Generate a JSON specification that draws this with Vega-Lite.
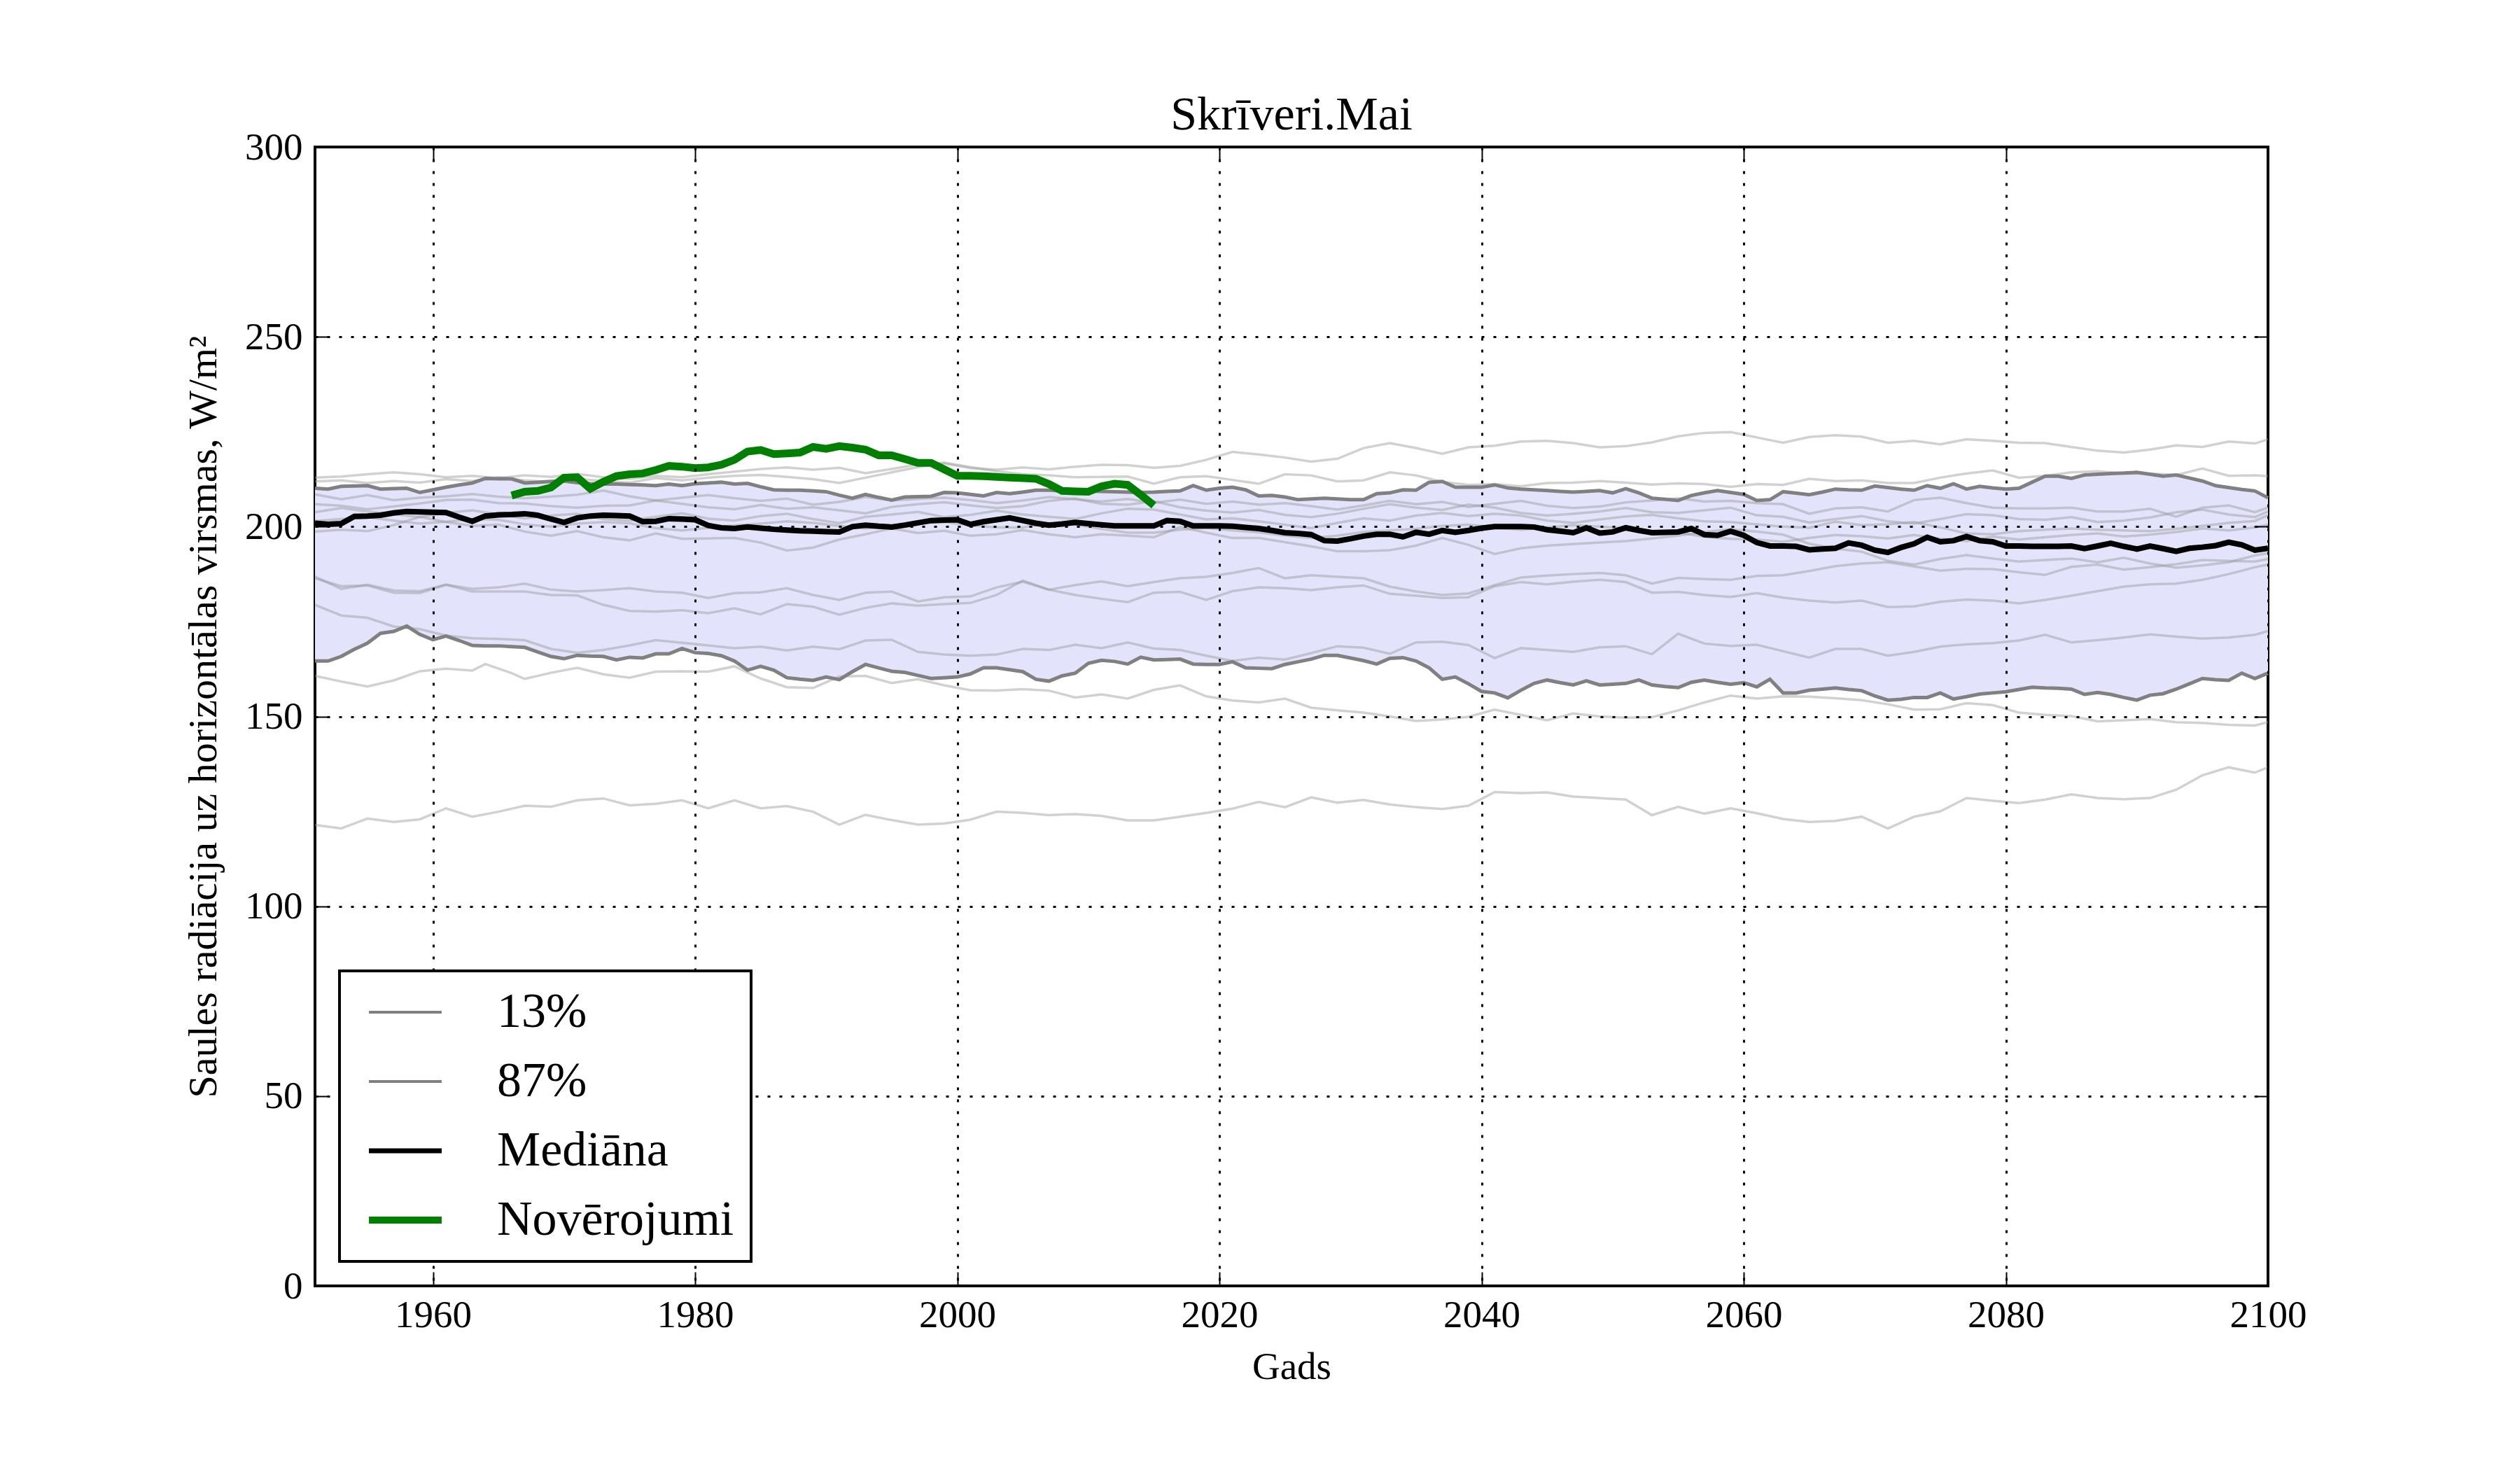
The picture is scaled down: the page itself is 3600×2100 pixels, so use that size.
{
"$schema": "https://vega.github.io/schema/vega-lite/v6.json",
"width": 2790, "height": 1627,
"autosize": {"type": "none"},
"padding": {"left": 450, "top": 210, "right": 360, "bottom": 263},
"background": "white",
"config": {"view": {"stroke": "black", "strokeWidth": 4}, "font": "Liberation Serif"},
"title": {"text": "Skrīveri.Mai", "fontSize": 68, "font": "Liberation Serif", "fontWeight": "normal", "offset": -16, "color": "black"},
"datasets": {
"stats": [
{"year":1951,"13%":164.6,"87%":210.1,"Mediāna":200.9},{"year":1952,"13%":164.6,"87%":209.9,"Mediāna":200.6},{"year":1953,"13%":165.8,"87%":210.6,"Mediāna":200.8},{"year":1954,"13%":167.7,"87%":210.7,"Mediāna":202.7},{"year":1955,"13%":169.3,"87%":210.8,"Mediāna":202.8},{"year":1956,"13%":171.9,"87%":209.9,"Mediāna":203.0},{"year":1957,"13%":172.4,"87%":210.0,"Mediāna":203.6},{"year":1958,"13%":173.8,"87%":210.1,"Mediāna":204.0},{"year":1959,"13%":171.6,"87%":209.0,"Mediāna":203.9},{"year":1960,"13%":170.2,"87%":209.7,"Mediāna":203.8},
{"year":1961,"13%":171.2,"87%":210.4,"Mediāna":203.7},{"year":1962,"13%":170.0,"87%":211.0,"Mediāna":202.5},{"year":1963,"13%":168.7,"87%":211.5,"Mediāna":201.4},{"year":1964,"13%":168.6,"87%":212.7,"Mediāna":202.8},{"year":1965,"13%":168.6,"87%":212.6,"Mediāna":203.1},{"year":1966,"13%":168.4,"87%":212.6,"Mediāna":203.2},{"year":1967,"13%":168.2,"87%":211.5,"Mediāna":203.4},{"year":1968,"13%":167.0,"87%":211.7,"Mediāna":203.0},{"year":1969,"13%":165.8,"87%":211.9,"Mediāna":202.0},{"year":1970,"13%":165.2,"87%":212.0,"Mediāna":201.1},
{"year":1971,"13%":166.1,"87%":211.6,"Mediāna":202.3},{"year":1972,"13%":165.9,"87%":211.3,"Mediāna":202.8},{"year":1973,"13%":165.8,"87%":211.2,"Mediāna":203.0},{"year":1974,"13%":164.9,"87%":211.2,"Mediāna":202.9},{"year":1975,"13%":165.6,"87%":211.1,"Mediāna":202.8},{"year":1976,"13%":165.4,"87%":211.0,"Mediāna":201.3},{"year":1977,"13%":166.5,"87%":210.8,"Mediāna":201.4},{"year":1978,"13%":166.5,"87%":211.2,"Mediāna":202.1},{"year":1979,"13%":167.9,"87%":210.8,"Mediāna":202.0},{"year":1980,"13%":166.8,"87%":211.3,"Mediāna":201.8},
{"year":1981,"13%":166.6,"87%":211.5,"Mediāna":200.3},{"year":1982,"13%":166.0,"87%":211.7,"Mediāna":199.7},{"year":1983,"13%":164.6,"87%":211.2,"Mediāna":199.5},{"year":1984,"13%":162.2,"87%":211.4,"Mediāna":199.9},{"year":1985,"13%":163.2,"87%":210.5,"Mediāna":199.6},{"year":1986,"13%":162.2,"87%":209.7,"Mediāna":199.3},{"year":1987,"13%":160.2,"87%":209.6,"Mediāna":199.1},{"year":1988,"13%":159.8,"87%":209.6,"Mediāna":198.9},{"year":1989,"13%":159.5,"87%":209.4,"Mediāna":198.8},{"year":1990,"13%":160.4,"87%":209.2,"Mediāna":198.7},
{"year":1991,"13%":159.7,"87%":208.3,"Mediāna":198.6},{"year":1992,"13%":161.8,"87%":207.5,"Mediāna":200.0},{"year":1993,"13%":163.7,"87%":208.5,"Mediāna":200.4},{"year":1994,"13%":162.8,"87%":207.7,"Mediāna":200.1},{"year":1995,"13%":161.9,"87%":207.0,"Mediāna":199.9},{"year":1996,"13%":161.6,"87%":207.8,"Mediāna":200.4},{"year":1997,"13%":160.8,"87%":207.9,"Mediāna":201.0},{"year":1998,"13%":160.0,"87%":208.0,"Mediāna":201.6},{"year":1999,"13%":160.2,"87%":209.0,"Mediāna":201.7},{"year":2000,"13%":160.4,"87%":208.9,"Mediāna":201.8},
{"year":2001,"13%":161.2,"87%":208.5,"Mediāna":200.6},{"year":2002,"13%":162.8,"87%":208.1,"Mediāna":201.3},{"year":2003,"13%":162.8,"87%":209.0,"Mediāna":201.8},{"year":2004,"13%":162.3,"87%":208.7,"Mediāna":202.3},{"year":2005,"13%":161.8,"87%":209.1,"Mediāna":201.6},{"year":2006,"13%":159.8,"87%":209.6,"Mediāna":200.9},{"year":2007,"13%":159.3,"87%":209.6,"Mediāna":200.4},{"year":2008,"13%":160.7,"87%":209.4,"Mediāna":200.7},{"year":2009,"13%":161.4,"87%":209.2,"Mediāna":201.1},{"year":2010,"13%":164.0,"87%":209.4,"Mediāna":200.8},
{"year":2011,"13%":164.8,"87%":209.3,"Mediāna":200.5},{"year":2012,"13%":164.5,"87%":209.2,"Mediāna":200.2},{"year":2013,"13%":163.8,"87%":209.1,"Mediāna":200.2},{"year":2014,"13%":165.6,"87%":209.0,"Mediāna":200.2},{"year":2015,"13%":164.9,"87%":209.1,"Mediāna":200.2},{"year":2016,"13%":165.0,"87%":209.3,"Mediāna":201.6},{"year":2017,"13%":165.1,"87%":209.4,"Mediāna":201.4},{"year":2018,"13%":163.8,"87%":210.8,"Mediāna":200.2},{"year":2019,"13%":163.7,"87%":209.6,"Mediāna":200.2},{"year":2020,"13%":163.7,"87%":210.1,"Mediāna":200.2},
{"year":2021,"13%":164.4,"87%":210.4,"Mediāna":200.1},{"year":2022,"13%":162.8,"87%":209.7,"Mediāna":199.8},{"year":2023,"13%":162.7,"87%":208.1,"Mediāna":199.5},{"year":2024,"13%":162.6,"87%":208.2,"Mediāna":199.0},{"year":2025,"13%":163.7,"87%":207.8,"Mediāna":198.4},{"year":2026,"13%":164.4,"87%":207.1,"Mediāna":198.2},{"year":2027,"13%":165.1,"87%":207.3,"Mediāna":197.9},{"year":2028,"13%":166.1,"87%":207.5,"Mediāna":196.3},{"year":2029,"13%":166.1,"87%":207.3,"Mediāna":196.2},{"year":2030,"13%":165.4,"87%":207.1,"Mediāna":196.8},
{"year":2031,"13%":164.7,"87%":207.1,"Mediāna":197.5},{"year":2032,"13%":163.8,"87%":208.7,"Mediāna":198.0},{"year":2033,"13%":165.3,"87%":208.9,"Mediāna":198.0},{"year":2034,"13%":165.5,"87%":209.7,"Mediāna":197.3},{"year":2035,"13%":164.6,"87%":209.6,"Mediāna":198.5},{"year":2036,"13%":162.8,"87%":211.7,"Mediāna":198.0},{"year":2037,"13%":159.8,"87%":211.9,"Mediāna":199.0},{"year":2038,"13%":160.4,"87%":210.4,"Mediāna":198.5},{"year":2039,"13%":158.6,"87%":210.4,"Mediāna":199.0},{"year":2040,"13%":156.6,"87%":210.4,"Mediāna":199.6},
{"year":2041,"13%":156.2,"87%":211.0,"Mediāna":200.0},{"year":2042,"13%":154.9,"87%":210.2,"Mediāna":200.0},{"year":2043,"13%":156.9,"87%":209.9,"Mediāna":200.0},{"year":2044,"13%":158.7,"87%":209.7,"Mediāna":199.9},{"year":2045,"13%":159.6,"87%":209.5,"Mediāna":199.2},{"year":2046,"13%":158.9,"87%":209.3,"Mediāna":198.8},{"year":2047,"13%":158.3,"87%":209.1,"Mediāna":198.4},{"year":2048,"13%":159.4,"87%":209.3,"Mediāna":199.7},{"year":2049,"13%":158.3,"87%":209.5,"Mediāna":198.3},{"year":2050,"13%":158.5,"87%":208.9,"Mediāna":198.6},
{"year":2051,"13%":158.7,"87%":210.0,"Mediāna":199.7},{"year":2052,"13%":159.6,"87%":208.9,"Mediāna":199.0},{"year":2053,"13%":158.3,"87%":207.5,"Mediāna":198.4},{"year":2054,"13%":157.9,"87%":207.2,"Mediāna":198.5},{"year":2055,"13%":157.6,"87%":206.9,"Mediāna":198.6},{"year":2056,"13%":159.0,"87%":208.2,"Mediāna":199.5},{"year":2057,"13%":159.6,"87%":208.9,"Mediāna":197.9},{"year":2058,"13%":159.0,"87%":209.5,"Mediāna":197.7},{"year":2059,"13%":158.5,"87%":209.0,"Mediāna":198.8},{"year":2060,"13%":158.9,"87%":208.5,"Mediāna":197.7},
{"year":2061,"13%":157.8,"87%":206.9,"Mediāna":195.8},{"year":2062,"13%":159.8,"87%":207.1,"Mediāna":194.9},{"year":2063,"13%":156.2,"87%":209.2,"Mediāna":194.9},{"year":2064,"13%":156.2,"87%":208.8,"Mediāna":194.8},{"year":2065,"13%":156.9,"87%":208.4,"Mediāna":193.9},{"year":2066,"13%":157.2,"87%":209.1,"Mediāna":194.1},{"year":2067,"13%":157.5,"87%":209.9,"Mediāna":194.3},{"year":2068,"13%":157.1,"87%":209.7,"Mediāna":195.7},{"year":2069,"13%":156.8,"87%":209.6,"Mediāna":195.1},{"year":2070,"13%":155.4,"87%":210.7,"Mediāna":193.8},
{"year":2071,"13%":154.3,"87%":210.3,"Mediāna":193.2},{"year":2072,"13%":154.5,"87%":209.9,"Mediāna":194.5},{"year":2073,"13%":155.0,"87%":209.6,"Mediāna":195.5},{"year":2074,"13%":155.0,"87%":210.8,"Mediāna":197.2},{"year":2075,"13%":156.2,"87%":210.1,"Mediāna":196.0},{"year":2076,"13%":154.6,"87%":211.3,"Mediāna":196.3},{"year":2077,"13%":155.2,"87%":209.9,"Mediāna":197.4},{"year":2078,"13%":155.9,"87%":210.6,"Mediāna":196.3},{"year":2079,"13%":156.2,"87%":210.2,"Mediāna":196.0},{"year":2080,"13%":156.5,"87%":209.9,"Mediāna":194.9},
{"year":2081,"13%":157.1,"87%":210.1,"Mediāna":194.9},{"year":2082,"13%":157.7,"87%":211.7,"Mediāna":194.8},{"year":2083,"13%":157.5,"87%":213.3,"Mediāna":194.8},{"year":2084,"13%":157.4,"87%":213.3,"Mediāna":194.8},{"year":2085,"13%":157.2,"87%":212.7,"Mediāna":194.9},{"year":2086,"13%":155.8,"87%":213.6,"Mediāna":194.2},{"year":2087,"13%":156.3,"87%":213.8,"Mediāna":194.9},{"year":2088,"13%":155.8,"87%":214.0,"Mediāna":195.6},{"year":2089,"13%":155.0,"87%":214.1,"Mediāna":194.8},{"year":2090,"13%":154.3,"87%":214.3,"Mediāna":194.1},
{"year":2091,"13%":155.6,"87%":213.8,"Mediāna":194.9},{"year":2092,"13%":156.0,"87%":213.3,"Mediāna":194.2},{"year":2093,"13%":157.2,"87%":213.6,"Mediāna":193.5},{"year":2094,"13%":158.6,"87%":212.8,"Mediāna":194.3},{"year":2095,"13%":160.0,"87%":212.0,"Mediāna":194.6},{"year":2096,"13%":159.7,"87%":210.8,"Mediāna":195.0},{"year":2097,"13%":159.5,"87%":210.3,"Mediāna":195.9},{"year":2098,"13%":161.4,"87%":209.8,"Mediāna":195.2},{"year":2099,"13%":160.0,"87%":209.4,"Mediāna":193.8},{"year":2100,"13%":161.4,"87%":207.6,"Mediāna":194.3}
],
"obs": [
{"year":1966,"s":"Novērojumi","v":208.2},{"year":1967,"s":"Novērojumi","v":209.2},{"year":1968,"s":"Novērojumi","v":209.4},{"year":1969,"s":"Novērojumi","v":210.3},{"year":1970,"s":"Novērojumi","v":212.9},{"year":1971,"s":"Novērojumi","v":213.0},{"year":1972,"s":"Novērojumi","v":210.0},{"year":1973,"s":"Novērojumi","v":211.8},{"year":1974,"s":"Novērojumi","v":213.3},{"year":1975,"s":"Novērojumi","v":213.8},
{"year":1976,"s":"Novērojumi","v":214.0},{"year":1977,"s":"Novērojumi","v":214.9},{"year":1978,"s":"Novērojumi","v":216.0},{"year":1979,"s":"Novērojumi","v":215.8},{"year":1980,"s":"Novērojumi","v":215.4},{"year":1981,"s":"Novērojumi","v":215.6},{"year":1982,"s":"Novērojumi","v":216.3},{"year":1983,"s":"Novērojumi","v":217.6},{"year":1984,"s":"Novērojumi","v":219.8},{"year":1985,"s":"Novērojumi","v":220.2},
{"year":1986,"s":"Novērojumi","v":219.1},{"year":1987,"s":"Novērojumi","v":219.3},{"year":1988,"s":"Novērojumi","v":219.5},{"year":1989,"s":"Novērojumi","v":221.0},{"year":1990,"s":"Novērojumi","v":220.5},{"year":1991,"s":"Novērojumi","v":221.2},{"year":1992,"s":"Novērojumi","v":220.8},{"year":1993,"s":"Novērojumi","v":220.3},{"year":1994,"s":"Novērojumi","v":218.8},{"year":1995,"s":"Novērojumi","v":218.8},
{"year":1996,"s":"Novērojumi","v":217.8},{"year":1997,"s":"Novērojumi","v":216.8},{"year":1998,"s":"Novērojumi","v":216.8},{"year":1999,"s":"Novērojumi","v":215.1},{"year":2000,"s":"Novērojumi","v":213.4},{"year":2001,"s":"Novērojumi","v":213.4},{"year":2002,"s":"Novērojumi","v":213.3},{"year":2003,"s":"Novērojumi","v":213.1},{"year":2004,"s":"Novērojumi","v":212.9},{"year":2005,"s":"Novērojumi","v":212.8},
{"year":2006,"s":"Novērojumi","v":212.6},{"year":2007,"s":"Novērojumi","v":211.2},{"year":2008,"s":"Novērojumi","v":209.4},{"year":2009,"s":"Novērojumi","v":209.3},{"year":2010,"s":"Novērojumi","v":209.2},{"year":2011,"s":"Novērojumi","v":210.6},{"year":2012,"s":"Novērojumi","v":211.3},{"year":2013,"s":"Novērojumi","v":211.0},{"year":2014,"s":"Novērojumi","v":208.4},{"year":2015,"s":"Novērojumi","v":205.6}
],
"ens": [
{"id":"T1","x":1951,"y":212.9},{"id":"T1","x":1953,"y":213.2},{"id":"T1","x":1955,"y":213.8},{"id":"T1","x":1957,"y":214.3},{"id":"T1","x":1959,"y":213.8},{"id":"T1","x":1961,"y":213.0},{"id":"T1","x":1963,"y":213.4},{"id":"T1","x":1965,"y":212.8},{"id":"T1","x":1967,"y":213.5},{"id":"T1","x":1969,"y":213.1},{"id":"T1","x":1971,"y":213.9},{"id":"T1","x":1973,"y":213.0},{"id":"T1","x":1975,"y":212.6},{"id":"T1","x":1977,"y":213.4},{"id":"T1","x":1979,"y":213.0},{"id":"T1","x":1981,"y":213.8},{"id":"T1","x":1983,"y":214.5},{"id":"T1","x":1985,"y":215.2},{"id":"T1","x":1987,"y":215.6},{"id":"T1","x":1989,"y":215.0},{"id":"T1","x":1991,"y":215.5},{"id":"T1","x":1993,"y":214.1},{"id":"T1","x":1995,"y":215.2},{"id":"T1","x":1997,"y":216.4},{"id":"T1","x":1999,"y":216.6},{"id":"T1","x":2001,"y":215.4},{"id":"T1","x":2003,"y":215.0},{"id":"T1","x":2005,"y":215.6},{"id":"T1","x":2007,"y":215.1},{"id":"T1","x":2009,"y":215.8},{"id":"T1","x":2011,"y":216.3},{"id":"T1","x":2013,"y":216.2},{"id":"T1","x":2015,"y":215.5},{"id":"T1","x":2017,"y":216.0},{"id":"T1","x":2019,"y":217.6},{"id":"T1","x":2021,"y":219.7},{"id":"T1","x":2023,"y":219.0},{"id":"T1","x":2025,"y":218.2},{"id":"T1","x":2027,"y":217.1},{"id":"T1","x":2029,"y":217.9},{"id":"T1","x":2031,"y":220.7},{"id":"T1","x":2033,"y":222.0},{"id":"T1","x":2035,"y":220.7},{"id":"T1","x":2037,"y":219.2},{"id":"T1","x":2039,"y":220.9},{"id":"T1","x":2041,"y":221.3},{"id":"T1","x":2043,"y":222.4},{"id":"T1","x":2045,"y":222.6},{"id":"T1","x":2047,"y":222.0},{"id":"T1","x":2049,"y":220.9},{"id":"T1","x":2051,"y":221.2},{"id":"T1","x":2053,"y":222.2},{"id":"T1","x":2055,"y":223.8},{"id":"T1","x":2057,"y":224.7},{"id":"T1","x":2059,"y":224.9},{"id":"T1","x":2061,"y":223.5},{"id":"T1","x":2063,"y":222.1},{"id":"T1","x":2065,"y":223.6},{"id":"T1","x":2067,"y":224.1},{"id":"T1","x":2069,"y":223.7},{"id":"T1","x":2071,"y":222.1},{"id":"T1","x":2073,"y":222.6},{"id":"T1","x":2075,"y":221.7},{"id":"T1","x":2077,"y":223.0},{"id":"T1","x":2079,"y":222.6},{"id":"T1","x":2081,"y":222.1},{"id":"T1","x":2083,"y":222.0},{"id":"T1","x":2085,"y":221.0},{"id":"T1","x":2087,"y":220.0},{"id":"T1","x":2089,"y":219.5},{"id":"T1","x":2091,"y":220.3},{"id":"T1","x":2093,"y":221.4},{"id":"T1","x":2095,"y":221.0},{"id":"T1","x":2097,"y":222.4},{"id":"T1","x":2099,"y":221.9},{"id":"T1","x":2100,"y":223.0},
{"id":"T2","x":1951,"y":211.9},{"id":"T2","x":1953,"y":212.2},{"id":"T2","x":1955,"y":211.5},{"id":"T2","x":1957,"y":212.0},{"id":"T2","x":1959,"y":211.6},{"id":"T2","x":1961,"y":212.5},{"id":"T2","x":1963,"y":212.0},{"id":"T2","x":1965,"y":213.0},{"id":"T2","x":1967,"y":212.2},{"id":"T2","x":1969,"y":211.8},{"id":"T2","x":1971,"y":212.6},{"id":"T2","x":1973,"y":212.0},{"id":"T2","x":1975,"y":211.6},{"id":"T2","x":1977,"y":212.8},{"id":"T2","x":1979,"y":212.2},{"id":"T2","x":1981,"y":212.9},{"id":"T2","x":1983,"y":213.4},{"id":"T2","x":1985,"y":213.6},{"id":"T2","x":1987,"y":213.1},{"id":"T2","x":1989,"y":212.5},{"id":"T2","x":1991,"y":211.5},{"id":"T2","x":1993,"y":212.9},{"id":"T2","x":1995,"y":214.3},{"id":"T2","x":1997,"y":215.7},{"id":"T2","x":1999,"y":216.9},{"id":"T2","x":2001,"y":215.7},{"id":"T2","x":2003,"y":214.6},{"id":"T2","x":2005,"y":213.8},{"id":"T2","x":2007,"y":213.5},{"id":"T2","x":2009,"y":213.0},{"id":"T2","x":2011,"y":213.1},{"id":"T2","x":2013,"y":213.2},{"id":"T2","x":2015,"y":211.3},{"id":"T2","x":2017,"y":213.0},{"id":"T2","x":2019,"y":213.3},{"id":"T2","x":2021,"y":212.3},{"id":"T2","x":2023,"y":211.3},{"id":"T2","x":2025,"y":213.8},{"id":"T2","x":2027,"y":213.5},{"id":"T2","x":2029,"y":211.9},{"id":"T2","x":2031,"y":212.2},{"id":"T2","x":2033,"y":214.3},{"id":"T2","x":2035,"y":213.5},{"id":"T2","x":2037,"y":211.8},{"id":"T2","x":2039,"y":211.0},{"id":"T2","x":2041,"y":211.2},{"id":"T2","x":2043,"y":210.6},{"id":"T2","x":2045,"y":211.5},{"id":"T2","x":2047,"y":211.6},{"id":"T2","x":2049,"y":212.0},{"id":"T2","x":2051,"y":211.6},{"id":"T2","x":2053,"y":211.1},{"id":"T2","x":2055,"y":211.4},{"id":"T2","x":2057,"y":211.2},{"id":"T2","x":2059,"y":210.5},{"id":"T2","x":2061,"y":211.2},{"id":"T2","x":2063,"y":211.0},{"id":"T2","x":2065,"y":212.6},{"id":"T2","x":2067,"y":212.0},{"id":"T2","x":2069,"y":212.2},{"id":"T2","x":2071,"y":211.5},{"id":"T2","x":2073,"y":211.5},{"id":"T2","x":2075,"y":212.9},{"id":"T2","x":2077,"y":214.0},{"id":"T2","x":2079,"y":214.8},{"id":"T2","x":2081,"y":212.9},{"id":"T2","x":2083,"y":213.4},{"id":"T2","x":2085,"y":214.3},{"id":"T2","x":2087,"y":214.6},{"id":"T2","x":2089,"y":214.0},{"id":"T2","x":2091,"y":214.0},{"id":"T2","x":2093,"y":213.6},{"id":"T2","x":2095,"y":215.3},{"id":"T2","x":2097,"y":213.4},{"id":"T2","x":2099,"y":213.5},{"id":"T2","x":2100,"y":213.3},
{"id":"U1","x":1951,"y":208.5},{"id":"U1","x":1953,"y":207.2},{"id":"U1","x":1955,"y":208.3},{"id":"U1","x":1957,"y":207.0},{"id":"U1","x":1959,"y":207.6},{"id":"U1","x":1961,"y":208.0},{"id":"U1","x":1963,"y":208.6},{"id":"U1","x":1965,"y":207.9},{"id":"U1","x":1967,"y":207.5},{"id":"U1","x":1969,"y":207.9},{"id":"U1","x":1971,"y":208.4},{"id":"U1","x":1973,"y":209.5},{"id":"U1","x":1975,"y":208.0},{"id":"U1","x":1977,"y":206.9},{"id":"U1","x":1979,"y":207.6},{"id":"U1","x":1981,"y":208.3},{"id":"U1","x":1983,"y":207.5},{"id":"U1","x":1985,"y":206.8},{"id":"U1","x":1987,"y":207.4},{"id":"U1","x":1989,"y":205.8},{"id":"U1","x":1991,"y":206.5},{"id":"U1","x":1993,"y":207.8},{"id":"U1","x":1995,"y":206.9},{"id":"U1","x":1997,"y":207.3},{"id":"U1","x":1999,"y":207.6},{"id":"U1","x":2001,"y":207.0},{"id":"U1","x":2003,"y":206.2},{"id":"U1","x":2005,"y":206.9},{"id":"U1","x":2007,"y":207.8},{"id":"U1","x":2009,"y":207.2},{"id":"U1","x":2011,"y":206.6},{"id":"U1","x":2013,"y":207.3},{"id":"U1","x":2015,"y":206.3},{"id":"U1","x":2017,"y":207.1},{"id":"U1","x":2019,"y":206.0},{"id":"U1","x":2021,"y":206.6},{"id":"U1","x":2023,"y":205.8},{"id":"U1","x":2025,"y":206.2},{"id":"U1","x":2027,"y":205.4},{"id":"U1","x":2029,"y":204.5},{"id":"U1","x":2031,"y":205.6},{"id":"U1","x":2033,"y":206.8},{"id":"U1","x":2035,"y":205.9},{"id":"U1","x":2037,"y":206.5},{"id":"U1","x":2039,"y":205.2},{"id":"U1","x":2041,"y":206.0},{"id":"U1","x":2043,"y":206.8},{"id":"U1","x":2045,"y":205.5},{"id":"U1","x":2047,"y":204.9},{"id":"U1","x":2049,"y":205.3},{"id":"U1","x":2051,"y":206.4},{"id":"U1","x":2053,"y":206.9},{"id":"U1","x":2055,"y":207.5},{"id":"U1","x":2057,"y":206.6},{"id":"U1","x":2059,"y":206.8},{"id":"U1","x":2061,"y":206.2},{"id":"U1","x":2063,"y":205.9},{"id":"U1","x":2065,"y":203.4},{"id":"U1","x":2067,"y":204.8},{"id":"U1","x":2069,"y":205.1},{"id":"U1","x":2071,"y":204.0},{"id":"U1","x":2073,"y":207.0},{"id":"U1","x":2075,"y":207.6},{"id":"U1","x":2077,"y":206.2},{"id":"U1","x":2079,"y":205.0},{"id":"U1","x":2081,"y":204.8},{"id":"U1","x":2083,"y":204.8},{"id":"U1","x":2085,"y":205.0},{"id":"U1","x":2087,"y":204.0},{"id":"U1","x":2089,"y":204.0},{"id":"U1","x":2091,"y":204.7},{"id":"U1","x":2093,"y":202.6},{"id":"U1","x":2095,"y":205.0},{"id":"U1","x":2097,"y":205.6},{"id":"U1","x":2099,"y":203.8},{"id":"U1","x":2100,"y":205.0},
{"id":"U2","x":1951,"y":205.9},{"id":"U2","x":1953,"y":205.5},{"id":"U2","x":1955,"y":204.6},{"id":"U2","x":1957,"y":205.3},{"id":"U2","x":1959,"y":206.1},{"id":"U2","x":1961,"y":207.0},{"id":"U2","x":1963,"y":207.1},{"id":"U2","x":1965,"y":206.2},{"id":"U2","x":1967,"y":206.1},{"id":"U2","x":1969,"y":205.4},{"id":"U2","x":1971,"y":205.0},{"id":"U2","x":1973,"y":205.5},{"id":"U2","x":1975,"y":205.6},{"id":"U2","x":1977,"y":206.9},{"id":"U2","x":1979,"y":206.0},{"id":"U2","x":1981,"y":205.1},{"id":"U2","x":1983,"y":204.6},{"id":"U2","x":1985,"y":205.7},{"id":"U2","x":1987,"y":204.7},{"id":"U2","x":1989,"y":205.1},{"id":"U2","x":1991,"y":204.3},{"id":"U2","x":1993,"y":203.5},{"id":"U2","x":1995,"y":205.2},{"id":"U2","x":1997,"y":205.9},{"id":"U2","x":1999,"y":206.4},{"id":"U2","x":2001,"y":205.6},{"id":"U2","x":2003,"y":204.9},{"id":"U2","x":2005,"y":205.4},{"id":"U2","x":2007,"y":206.8},{"id":"U2","x":2009,"y":207.4},{"id":"U2","x":2011,"y":206.0},{"id":"U2","x":2013,"y":205.8},{"id":"U2","x":2015,"y":206.7},{"id":"U2","x":2017,"y":205.1},{"id":"U2","x":2019,"y":204.2},{"id":"U2","x":2021,"y":203.7},{"id":"U2","x":2023,"y":204.4},{"id":"U2","x":2025,"y":203.1},{"id":"U2","x":2027,"y":202.5},{"id":"U2","x":2029,"y":203.4},{"id":"U2","x":2031,"y":204.7},{"id":"U2","x":2033,"y":205.9},{"id":"U2","x":2035,"y":205.0},{"id":"U2","x":2037,"y":204.4},{"id":"U2","x":2039,"y":205.8},{"id":"U2","x":2041,"y":205.0},{"id":"U2","x":2043,"y":203.6},{"id":"U2","x":2045,"y":202.9},{"id":"U2","x":2047,"y":203.4},{"id":"U2","x":2049,"y":204.0},{"id":"U2","x":2051,"y":204.9},{"id":"U2","x":2053,"y":203.8},{"id":"U2","x":2055,"y":203.6},{"id":"U2","x":2057,"y":204.3},{"id":"U2","x":2059,"y":205.0},{"id":"U2","x":2061,"y":203.0},{"id":"U2","x":2063,"y":202.6},{"id":"U2","x":2065,"y":201.1},{"id":"U2","x":2067,"y":202.0},{"id":"U2","x":2069,"y":202.8},{"id":"U2","x":2071,"y":201.4},{"id":"U2","x":2073,"y":200.8},{"id":"U2","x":2075,"y":202.0},{"id":"U2","x":2077,"y":203.3},{"id":"U2","x":2079,"y":203.0},{"id":"U2","x":2081,"y":202.0},{"id":"U2","x":2083,"y":201.8},{"id":"U2","x":2085,"y":202.5},{"id":"U2","x":2087,"y":201.2},{"id":"U2","x":2089,"y":201.6},{"id":"U2","x":2091,"y":202.4},{"id":"U2","x":2093,"y":203.8},{"id":"U2","x":2095,"y":204.5},{"id":"U2","x":2097,"y":203.2},{"id":"U2","x":2099,"y":202.5},{"id":"U2","x":2100,"y":204.0},
{"id":"U3","x":1951,"y":203.8},{"id":"U3","x":1953,"y":204.9},{"id":"U3","x":1955,"y":204.0},{"id":"U3","x":1957,"y":203.3},{"id":"U3","x":1959,"y":202.5},{"id":"U3","x":1961,"y":203.6},{"id":"U3","x":1963,"y":204.3},{"id":"U3","x":1965,"y":203.2},{"id":"U3","x":1967,"y":202.2},{"id":"U3","x":1969,"y":202.9},{"id":"U3","x":1971,"y":203.4},{"id":"U3","x":1973,"y":202.0},{"id":"U3","x":1975,"y":201.6},{"id":"U3","x":1977,"y":202.6},{"id":"U3","x":1979,"y":203.5},{"id":"U3","x":1981,"y":202.1},{"id":"U3","x":1983,"y":201.6},{"id":"U3","x":1985,"y":202.8},{"id":"U3","x":1987,"y":203.4},{"id":"U3","x":1989,"y":202.0},{"id":"U3","x":1991,"y":200.9},{"id":"U3","x":1993,"y":202.6},{"id":"U3","x":1995,"y":203.2},{"id":"U3","x":1997,"y":203.9},{"id":"U3","x":1999,"y":202.5},{"id":"U3","x":2001,"y":203.1},{"id":"U3","x":2003,"y":204.2},{"id":"U3","x":2005,"y":203.2},{"id":"U3","x":2007,"y":202.6},{"id":"U3","x":2009,"y":202.0},{"id":"U3","x":2011,"y":203.5},{"id":"U3","x":2013,"y":204.7},{"id":"U3","x":2015,"y":204.5},{"id":"U3","x":2017,"y":203.2},{"id":"U3","x":2019,"y":201.9},{"id":"U3","x":2021,"y":202.2},{"id":"U3","x":2023,"y":201.4},{"id":"U3","x":2025,"y":200.5},{"id":"U3","x":2027,"y":199.6},{"id":"U3","x":2029,"y":201.0},{"id":"U3","x":2031,"y":202.2},{"id":"U3","x":2033,"y":201.6},{"id":"U3","x":2035,"y":202.9},{"id":"U3","x":2037,"y":203.6},{"id":"U3","x":2039,"y":202.8},{"id":"U3","x":2041,"y":203.4},{"id":"U3","x":2043,"y":202.9},{"id":"U3","x":2045,"y":201.6},{"id":"U3","x":2047,"y":201.0},{"id":"U3","x":2049,"y":201.9},{"id":"U3","x":2051,"y":202.7},{"id":"U3","x":2053,"y":203.1},{"id":"U3","x":2055,"y":202.2},{"id":"U3","x":2057,"y":201.4},{"id":"U3","x":2059,"y":201.2},{"id":"U3","x":2061,"y":200.6},{"id":"U3","x":2063,"y":200.0},{"id":"U3","x":2065,"y":199.7},{"id":"U3","x":2067,"y":201.3},{"id":"U3","x":2069,"y":200.4},{"id":"U3","x":2071,"y":200.6},{"id":"U3","x":2073,"y":201.2},{"id":"U3","x":2075,"y":199.8},{"id":"U3","x":2077,"y":198.2},{"id":"U3","x":2079,"y":198.0},{"id":"U3","x":2081,"y":198.8},{"id":"U3","x":2083,"y":199.2},{"id":"U3","x":2085,"y":199.5},{"id":"U3","x":2087,"y":199.2},{"id":"U3","x":2089,"y":199.0},{"id":"U3","x":2091,"y":198.8},{"id":"U3","x":2093,"y":199.4},{"id":"U3","x":2095,"y":200.2},{"id":"U3","x":2097,"y":201.0},{"id":"U3","x":2099,"y":201.5},{"id":"U3","x":2100,"y":203.0},
{"id":"U4","x":1951,"y":198.7},{"id":"U4","x":1953,"y":199.2},{"id":"U4","x":1955,"y":198.8},{"id":"U4","x":1957,"y":200.4},{"id":"U4","x":1959,"y":202.6},{"id":"U4","x":1961,"y":201.2},{"id":"U4","x":1963,"y":200.2},{"id":"U4","x":1965,"y":200.5},{"id":"U4","x":1967,"y":198.7},{"id":"U4","x":1969,"y":197.6},{"id":"U4","x":1971,"y":198.8},{"id":"U4","x":1973,"y":197.2},{"id":"U4","x":1975,"y":196.4},{"id":"U4","x":1977,"y":198.2},{"id":"U4","x":1979,"y":196.8},{"id":"U4","x":1981,"y":196.9},{"id":"U4","x":1983,"y":197.0},{"id":"U4","x":1985,"y":195.8},{"id":"U4","x":1987,"y":193.7},{"id":"U4","x":1989,"y":194.5},{"id":"U4","x":1991,"y":196.6},{"id":"U4","x":1993,"y":198.0},{"id":"U4","x":1995,"y":199.5},{"id":"U4","x":1997,"y":198.3},{"id":"U4","x":1999,"y":198.9},{"id":"U4","x":2001,"y":197.6},{"id":"U4","x":2003,"y":198.0},{"id":"U4","x":2005,"y":199.1},{"id":"U4","x":2007,"y":198.0},{"id":"U4","x":2009,"y":197.2},{"id":"U4","x":2011,"y":198.0},{"id":"U4","x":2013,"y":197.6},{"id":"U4","x":2015,"y":197.2},{"id":"U4","x":2017,"y":199.9},{"id":"U4","x":2019,"y":198.4},{"id":"U4","x":2021,"y":197.0},{"id":"U4","x":2023,"y":197.0},{"id":"U4","x":2025,"y":195.9},{"id":"U4","x":2027,"y":194.8},{"id":"U4","x":2029,"y":193.5},{"id":"U4","x":2031,"y":193.5},{"id":"U4","x":2033,"y":193.8},{"id":"U4","x":2035,"y":195.0},{"id":"U4","x":2037,"y":197.0},{"id":"U4","x":2039,"y":195.2},{"id":"U4","x":2041,"y":192.8},{"id":"U4","x":2043,"y":194.3},{"id":"U4","x":2045,"y":195.0},{"id":"U4","x":2047,"y":195.4},{"id":"U4","x":2049,"y":195.8},{"id":"U4","x":2051,"y":196.2},{"id":"U4","x":2053,"y":196.9},{"id":"U4","x":2055,"y":197.6},{"id":"U4","x":2057,"y":198.6},{"id":"U4","x":2059,"y":199.3},{"id":"U4","x":2061,"y":198.7},{"id":"U4","x":2063,"y":197.9},{"id":"U4","x":2065,"y":195.5},{"id":"U4","x":2067,"y":194.2},{"id":"U4","x":2069,"y":193.4},{"id":"U4","x":2071,"y":191.0},{"id":"U4","x":2073,"y":190.0},{"id":"U4","x":2075,"y":191.5},{"id":"U4","x":2077,"y":192.5},{"id":"U4","x":2079,"y":191.6},{"id":"U4","x":2081,"y":190.8},{"id":"U4","x":2083,"y":191.2},{"id":"U4","x":2085,"y":191.6},{"id":"U4","x":2087,"y":190.6},{"id":"U4","x":2089,"y":191.8},{"id":"U4","x":2091,"y":190.3},{"id":"U4","x":2093,"y":189.2},{"id":"U4","x":2095,"y":189.8},{"id":"U4","x":2097,"y":190.6},{"id":"U4","x":2099,"y":192.4},{"id":"U4","x":2100,"y":193.0},
{"id":"U5","x":1951,"y":201.5},{"id":"U5","x":1953,"y":202.0},{"id":"U5","x":1955,"y":202.5},{"id":"U5","x":1957,"y":201.6},{"id":"U5","x":1959,"y":200.8},{"id":"U5","x":1961,"y":201.3},{"id":"U5","x":1963,"y":202.0},{"id":"U5","x":1965,"y":201.8},{"id":"U5","x":1967,"y":200.6},{"id":"U5","x":1969,"y":200.0},{"id":"U5","x":1971,"y":200.8},{"id":"U5","x":1973,"y":201.2},{"id":"U5","x":1975,"y":200.9},{"id":"U5","x":1977,"y":199.6},{"id":"U5","x":1979,"y":199.0},{"id":"U5","x":1981,"y":199.7},{"id":"U5","x":1983,"y":200.3},{"id":"U5","x":1985,"y":200.8},{"id":"U5","x":1987,"y":201.4},{"id":"U5","x":1989,"y":201.0},{"id":"U5","x":1991,"y":200.2},{"id":"U5","x":1993,"y":199.5},{"id":"U5","x":1995,"y":200.2},{"id":"U5","x":1997,"y":200.9},{"id":"U5","x":1999,"y":201.2},{"id":"U5","x":2001,"y":200.4},{"id":"U5","x":2003,"y":199.8},{"id":"U5","x":2005,"y":199.8},{"id":"U5","x":2007,"y":200.9},{"id":"U5","x":2009,"y":200.5},{"id":"U5","x":2011,"y":199.4},{"id":"U5","x":2013,"y":198.4},{"id":"U5","x":2015,"y":198.4},{"id":"U5","x":2017,"y":199.2},{"id":"U5","x":2019,"y":199.7},{"id":"U5","x":2021,"y":199.0},{"id":"U5","x":2023,"y":198.5},{"id":"U5","x":2025,"y":197.6},{"id":"U5","x":2027,"y":197.0},{"id":"U5","x":2029,"y":197.6},{"id":"U5","x":2031,"y":198.6},{"id":"U5","x":2033,"y":199.0},{"id":"U5","x":2035,"y":199.4},{"id":"U5","x":2037,"y":200.2},{"id":"U5","x":2039,"y":200.5},{"id":"U5","x":2041,"y":199.8},{"id":"U5","x":2043,"y":199.2},{"id":"U5","x":2045,"y":199.8},{"id":"U5","x":2047,"y":200.4},{"id":"U5","x":2049,"y":200.0},{"id":"U5","x":2051,"y":199.6},{"id":"U5","x":2053,"y":198.8},{"id":"U5","x":2055,"y":198.5},{"id":"U5","x":2057,"y":197.3},{"id":"U5","x":2059,"y":196.8},{"id":"U5","x":2061,"y":196.6},{"id":"U5","x":2063,"y":196.0},{"id":"U5","x":2065,"y":197.0},{"id":"U5","x":2067,"y":197.8},{"id":"U5","x":2069,"y":197.5},{"id":"U5","x":2071,"y":196.9},{"id":"U5","x":2073,"y":197.8},{"id":"U5","x":2075,"y":196.8},{"id":"U5","x":2077,"y":196.2},{"id":"U5","x":2079,"y":197.4},{"id":"U5","x":2081,"y":196.6},{"id":"U5","x":2083,"y":197.2},{"id":"U5","x":2085,"y":197.8},{"id":"U5","x":2087,"y":198.2},{"id":"U5","x":2089,"y":197.4},{"id":"U5","x":2091,"y":197.9},{"id":"U5","x":2093,"y":198.6},{"id":"U5","x":2095,"y":199.5},{"id":"U5","x":2097,"y":199.0},{"id":"U5","x":2099,"y":199.8},{"id":"U5","x":2100,"y":200.5},
{"id":"D1","x":1951,"y":186.8},{"id":"D1","x":1953,"y":183.6},{"id":"D1","x":1955,"y":184.7},{"id":"D1","x":1957,"y":183.2},{"id":"D1","x":1959,"y":183.0},{"id":"D1","x":1961,"y":184.7},{"id":"D1","x":1963,"y":183.6},{"id":"D1","x":1965,"y":184.0},{"id":"D1","x":1967,"y":185.0},{"id":"D1","x":1969,"y":183.4},{"id":"D1","x":1971,"y":182.9},{"id":"D1","x":1973,"y":183.3},{"id":"D1","x":1975,"y":183.8},{"id":"D1","x":1977,"y":182.9},{"id":"D1","x":1979,"y":182.6},{"id":"D1","x":1981,"y":181.2},{"id":"D1","x":1983,"y":182.5},{"id":"D1","x":1985,"y":182.7},{"id":"D1","x":1987,"y":183.8},{"id":"D1","x":1989,"y":182.0},{"id":"D1","x":1991,"y":180.7},{"id":"D1","x":1993,"y":182.6},{"id":"D1","x":1995,"y":182.9},{"id":"D1","x":1997,"y":180.3},{"id":"D1","x":1999,"y":181.4},{"id":"D1","x":2001,"y":181.6},{"id":"D1","x":2003,"y":184.0},{"id":"D1","x":2005,"y":185.5},{"id":"D1","x":2007,"y":183.4},{"id":"D1","x":2009,"y":184.6},{"id":"D1","x":2011,"y":185.6},{"id":"D1","x":2013,"y":184.3},{"id":"D1","x":2015,"y":185.4},{"id":"D1","x":2017,"y":186.4},{"id":"D1","x":2019,"y":186.8},{"id":"D1","x":2021,"y":187.8},{"id":"D1","x":2023,"y":189.1},{"id":"D1","x":2025,"y":186.4},{"id":"D1","x":2027,"y":187.2},{"id":"D1","x":2029,"y":186.8},{"id":"D1","x":2031,"y":186.4},{"id":"D1","x":2033,"y":184.2},{"id":"D1","x":2035,"y":182.9},{"id":"D1","x":2037,"y":182.0},{"id":"D1","x":2039,"y":182.4},{"id":"D1","x":2041,"y":184.6},{"id":"D1","x":2043,"y":186.6},{"id":"D1","x":2045,"y":187.1},{"id":"D1","x":2047,"y":187.5},{"id":"D1","x":2049,"y":187.8},{"id":"D1","x":2051,"y":187.2},{"id":"D1","x":2053,"y":185.0},{"id":"D1","x":2055,"y":186.5},{"id":"D1","x":2057,"y":186.2},{"id":"D1","x":2059,"y":186.0},{"id":"D1","x":2061,"y":187.0},{"id":"D1","x":2063,"y":187.2},{"id":"D1","x":2065,"y":188.3},{"id":"D1","x":2067,"y":189.6},{"id":"D1","x":2069,"y":190.3},{"id":"D1","x":2071,"y":190.6},{"id":"D1","x":2073,"y":189.5},{"id":"D1","x":2075,"y":188.4},{"id":"D1","x":2077,"y":188.9},{"id":"D1","x":2079,"y":188.8},{"id":"D1","x":2081,"y":188.0},{"id":"D1","x":2083,"y":187.3},{"id":"D1","x":2085,"y":189.4},{"id":"D1","x":2087,"y":190.0},{"id":"D1","x":2089,"y":188.7},{"id":"D1","x":2091,"y":189.3},{"id":"D1","x":2093,"y":190.1},{"id":"D1","x":2095,"y":191.2},{"id":"D1","x":2097,"y":191.0},{"id":"D1","x":2099,"y":190.8},{"id":"D1","x":2100,"y":191.5},
{"id":"D2","x":1951,"y":186.4},{"id":"D2","x":1953,"y":184.3},{"id":"D2","x":1955,"y":184.5},{"id":"D2","x":1957,"y":182.6},{"id":"D2","x":1959,"y":182.5},{"id":"D2","x":1961,"y":184.7},{"id":"D2","x":1963,"y":182.9},{"id":"D2","x":1965,"y":182.9},{"id":"D2","x":1967,"y":182.9},{"id":"D2","x":1969,"y":182.0},{"id":"D2","x":1971,"y":181.9},{"id":"D2","x":1973,"y":179.4},{"id":"D2","x":1975,"y":177.8},{"id":"D2","x":1977,"y":177.6},{"id":"D2","x":1979,"y":178.0},{"id":"D2","x":1981,"y":177.2},{"id":"D2","x":1983,"y":178.5},{"id":"D2","x":1985,"y":176.9},{"id":"D2","x":1987,"y":179.6},{"id":"D2","x":1989,"y":178.9},{"id":"D2","x":1991,"y":176.8},{"id":"D2","x":1993,"y":178.6},{"id":"D2","x":1995,"y":179.8},{"id":"D2","x":1997,"y":179.2},{"id":"D2","x":1999,"y":179.6},{"id":"D2","x":2001,"y":179.9},{"id":"D2","x":2003,"y":182.0},{"id":"D2","x":2005,"y":185.8},{"id":"D2","x":2007,"y":183.4},{"id":"D2","x":2009,"y":182.0},{"id":"D2","x":2011,"y":181.0},{"id":"D2","x":2013,"y":180.1},{"id":"D2","x":2015,"y":182.6},{"id":"D2","x":2017,"y":182.8},{"id":"D2","x":2019,"y":180.7},{"id":"D2","x":2021,"y":183.0},{"id":"D2","x":2023,"y":184.0},{"id":"D2","x":2025,"y":183.8},{"id":"D2","x":2027,"y":183.3},{"id":"D2","x":2029,"y":184.0},{"id":"D2","x":2031,"y":184.5},{"id":"D2","x":2033,"y":182.3},{"id":"D2","x":2035,"y":181.8},{"id":"D2","x":2037,"y":181.2},{"id":"D2","x":2039,"y":181.4},{"id":"D2","x":2041,"y":184.3},{"id":"D2","x":2043,"y":185.4},{"id":"D2","x":2045,"y":184.8},{"id":"D2","x":2047,"y":185.5},{"id":"D2","x":2049,"y":186.0},{"id":"D2","x":2051,"y":185.4},{"id":"D2","x":2053,"y":182.6},{"id":"D2","x":2055,"y":182.8},{"id":"D2","x":2057,"y":182.0},{"id":"D2","x":2059,"y":181.5},{"id":"D2","x":2061,"y":182.5},{"id":"D2","x":2063,"y":181.3},{"id":"D2","x":2065,"y":180.5},{"id":"D2","x":2067,"y":180.0},{"id":"D2","x":2069,"y":180.5},{"id":"D2","x":2071,"y":178.8},{"id":"D2","x":2073,"y":179.0},{"id":"D2","x":2075,"y":180.2},{"id":"D2","x":2077,"y":180.8},{"id":"D2","x":2079,"y":180.5},{"id":"D2","x":2081,"y":179.8},{"id":"D2","x":2083,"y":180.7},{"id":"D2","x":2085,"y":181.8},{"id":"D2","x":2087,"y":183.0},{"id":"D2","x":2089,"y":184.2},{"id":"D2","x":2091,"y":184.8},{"id":"D2","x":2093,"y":185.0},{"id":"D2","x":2095,"y":186.0},{"id":"D2","x":2097,"y":187.5},{"id":"D2","x":2099,"y":189.3},{"id":"D2","x":2100,"y":190.0},
{"id":"D3","x":1951,"y":179.4},{"id":"D3","x":1953,"y":176.6},{"id":"D3","x":1955,"y":176.0},{"id":"D3","x":1957,"y":173.7},{"id":"D3","x":1959,"y":173.0},{"id":"D3","x":1961,"y":171.3},{"id":"D3","x":1963,"y":170.6},{"id":"D3","x":1965,"y":170.4},{"id":"D3","x":1967,"y":170.1},{"id":"D3","x":1969,"y":167.8},{"id":"D3","x":1971,"y":166.8},{"id":"D3","x":1973,"y":167.5},{"id":"D3","x":1975,"y":168.7},{"id":"D3","x":1977,"y":170.1},{"id":"D3","x":1979,"y":169.4},{"id":"D3","x":1981,"y":168.7},{"id":"D3","x":1983,"y":168.0},{"id":"D3","x":1985,"y":168.4},{"id":"D3","x":1987,"y":167.4},{"id":"D3","x":1989,"y":168.4},{"id":"D3","x":1991,"y":167.7},{"id":"D3","x":1993,"y":170.0},{"id":"D3","x":1995,"y":170.2},{"id":"D3","x":1997,"y":167.0},{"id":"D3","x":1999,"y":166.3},{"id":"D3","x":2001,"y":166.0},{"id":"D3","x":2003,"y":166.3},{"id":"D3","x":2005,"y":167.8},{"id":"D3","x":2007,"y":167.5},{"id":"D3","x":2009,"y":168.9},{"id":"D3","x":2011,"y":168.0},{"id":"D3","x":2013,"y":169.5},{"id":"D3","x":2015,"y":167.9},{"id":"D3","x":2017,"y":167.5},{"id":"D3","x":2019,"y":166.0},{"id":"D3","x":2021,"y":164.6},{"id":"D3","x":2023,"y":165.5},{"id":"D3","x":2025,"y":165.0},{"id":"D3","x":2027,"y":166.7},{"id":"D3","x":2029,"y":168.5},{"id":"D3","x":2031,"y":168.1},{"id":"D3","x":2033,"y":166.5},{"id":"D3","x":2035,"y":169.5},{"id":"D3","x":2037,"y":169.7},{"id":"D3","x":2039,"y":168.8},{"id":"D3","x":2041,"y":165.4},{"id":"D3","x":2043,"y":168.0},{"id":"D3","x":2045,"y":167.5},{"id":"D3","x":2047,"y":167.0},{"id":"D3","x":2049,"y":168.2},{"id":"D3","x":2051,"y":168.5},{"id":"D3","x":2053,"y":166.4},{"id":"D3","x":2055,"y":171.8},{"id":"D3","x":2057,"y":169.2},{"id":"D3","x":2059,"y":168.6},{"id":"D3","x":2061,"y":168.9},{"id":"D3","x":2063,"y":167.2},{"id":"D3","x":2065,"y":165.5},{"id":"D3","x":2067,"y":167.8},{"id":"D3","x":2069,"y":167.8},{"id":"D3","x":2071,"y":166.0},{"id":"D3","x":2073,"y":167.0},{"id":"D3","x":2075,"y":168.4},{"id":"D3","x":2077,"y":169.0},{"id":"D3","x":2079,"y":169.3},{"id":"D3","x":2081,"y":170.0},{"id":"D3","x":2083,"y":171.5},{"id":"D3","x":2085,"y":169.5},{"id":"D3","x":2087,"y":170.1},{"id":"D3","x":2089,"y":170.8},{"id":"D3","x":2091,"y":171.6},{"id":"D3","x":2093,"y":171.0},{"id":"D3","x":2095,"y":170.5},{"id":"D3","x":2097,"y":170.8},{"id":"D3","x":2099,"y":171.5},{"id":"D3","x":2100,"y":172.5},
{"id":"L2","x":1951,"y":160.7},{"id":"L2","x":1953,"y":159.2},{"id":"L2","x":1955,"y":157.9},{"id":"L2","x":1957,"y":159.5},{"id":"L2","x":1959,"y":161.9},{"id":"L2","x":1961,"y":162.6},{"id":"L2","x":1963,"y":162.1},{"id":"L2","x":1964,"y":163.8},{"id":"L2","x":1966,"y":161.4},{"id":"L2","x":1967,"y":159.9},{"id":"L2","x":1969,"y":161.5},{"id":"L2","x":1971,"y":162.8},{"id":"L2","x":1973,"y":161.1},{"id":"L2","x":1975,"y":160.2},{"id":"L2","x":1977,"y":161.8},{"id":"L2","x":1979,"y":161.9},{"id":"L2","x":1981,"y":161.8},{"id":"L2","x":1983,"y":163.2},{"id":"L2","x":1985,"y":160.0},{"id":"L2","x":1987,"y":157.7},{"id":"L2","x":1989,"y":157.5},{"id":"L2","x":1991,"y":160.5},{"id":"L2","x":1993,"y":160.7},{"id":"L2","x":1995,"y":158.8},{"id":"L2","x":1997,"y":159.8},{"id":"L2","x":1999,"y":158.2},{"id":"L2","x":2001,"y":156.9},{"id":"L2","x":2003,"y":156.8},{"id":"L2","x":2005,"y":157.2},{"id":"L2","x":2007,"y":156.8},{"id":"L2","x":2009,"y":155.0},{"id":"L2","x":2011,"y":155.8},{"id":"L2","x":2013,"y":154.7},{"id":"L2","x":2015,"y":157.0},{"id":"L2","x":2017,"y":158.2},{"id":"L2","x":2019,"y":155.3},{"id":"L2","x":2021,"y":154.2},{"id":"L2","x":2023,"y":153.7},{"id":"L2","x":2025,"y":154.7},{"id":"L2","x":2027,"y":152.3},{"id":"L2","x":2029,"y":151.6},{"id":"L2","x":2031,"y":151.0},{"id":"L2","x":2033,"y":150.0},{"id":"L2","x":2035,"y":148.8},{"id":"L2","x":2037,"y":149.2},{"id":"L2","x":2039,"y":149.9},{"id":"L2","x":2041,"y":151.8},{"id":"L2","x":2043,"y":150.4},{"id":"L2","x":2045,"y":149.0},{"id":"L2","x":2047,"y":150.8},{"id":"L2","x":2049,"y":150.0},{"id":"L2","x":2051,"y":149.7},{"id":"L2","x":2053,"y":149.8},{"id":"L2","x":2055,"y":151.6},{"id":"L2","x":2057,"y":153.7},{"id":"L2","x":2059,"y":155.5},{"id":"L2","x":2061,"y":154.7},{"id":"L2","x":2063,"y":155.3},{"id":"L2","x":2065,"y":155.2},{"id":"L2","x":2067,"y":154.8},{"id":"L2","x":2069,"y":154.3},{"id":"L2","x":2071,"y":153.2},{"id":"L2","x":2073,"y":151.8},{"id":"L2","x":2075,"y":151.9},{"id":"L2","x":2077,"y":153.5},{"id":"L2","x":2079,"y":153.0},{"id":"L2","x":2081,"y":151.0},{"id":"L2","x":2083,"y":150.4},{"id":"L2","x":2085,"y":150.1},{"id":"L2","x":2087,"y":148.7},{"id":"L2","x":2089,"y":149.0},{"id":"L2","x":2091,"y":149.3},{"id":"L2","x":2093,"y":148.5},{"id":"L2","x":2095,"y":148.3},{"id":"L2","x":2097,"y":147.8},{"id":"L2","x":2099,"y":147.6},{"id":"L2","x":2100,"y":148.5},
{"id":"L1","x":1951,"y":121.4},{"id":"L1","x":1953,"y":120.5},{"id":"L1","x":1955,"y":123.1},{"id":"L1","x":1957,"y":122.2},{"id":"L1","x":1959,"y":122.9},{"id":"L1","x":1961,"y":125.8},{"id":"L1","x":1963,"y":123.6},{"id":"L1","x":1965,"y":124.9},{"id":"L1","x":1967,"y":126.5},{"id":"L1","x":1969,"y":126.2},{"id":"L1","x":1971,"y":127.9},{"id":"L1","x":1973,"y":128.4},{"id":"L1","x":1975,"y":126.6},{"id":"L1","x":1977,"y":127.0},{"id":"L1","x":1979,"y":127.9},{"id":"L1","x":1981,"y":125.8},{"id":"L1","x":1983,"y":127.9},{"id":"L1","x":1985,"y":125.8},{"id":"L1","x":1987,"y":126.4},{"id":"L1","x":1989,"y":124.9},{"id":"L1","x":1991,"y":121.5},{"id":"L1","x":1993,"y":124.1},{"id":"L1","x":1995,"y":122.7},{"id":"L1","x":1997,"y":121.5},{"id":"L1","x":1999,"y":121.8},{"id":"L1","x":2001,"y":122.8},{"id":"L1","x":2003,"y":124.9},{"id":"L1","x":2005,"y":124.6},{"id":"L1","x":2007,"y":124.0},{"id":"L1","x":2009,"y":124.3},{"id":"L1","x":2011,"y":123.8},{"id":"L1","x":2013,"y":122.6},{"id":"L1","x":2015,"y":122.6},{"id":"L1","x":2017,"y":123.6},{"id":"L1","x":2019,"y":124.6},{"id":"L1","x":2021,"y":125.7},{"id":"L1","x":2023,"y":127.5},{"id":"L1","x":2025,"y":126.1},{"id":"L1","x":2027,"y":128.7},{"id":"L1","x":2029,"y":127.3},{"id":"L1","x":2031,"y":128.0},{"id":"L1","x":2033,"y":126.8},{"id":"L1","x":2035,"y":126.1},{"id":"L1","x":2037,"y":125.6},{"id":"L1","x":2039,"y":126.5},{"id":"L1","x":2041,"y":130.1},{"id":"L1","x":2043,"y":129.8},{"id":"L1","x":2045,"y":130.0},{"id":"L1","x":2047,"y":128.9},{"id":"L1","x":2049,"y":128.5},{"id":"L1","x":2051,"y":128.1},{"id":"L1","x":2053,"y":124.0},{"id":"L1","x":2055,"y":126.2},{"id":"L1","x":2057,"y":124.4},{"id":"L1","x":2059,"y":125.8},{"id":"L1","x":2061,"y":124.5},{"id":"L1","x":2063,"y":123.0},{"id":"L1","x":2065,"y":122.2},{"id":"L1","x":2067,"y":122.5},{"id":"L1","x":2069,"y":123.6},{"id":"L1","x":2071,"y":120.5},{"id":"L1","x":2073,"y":123.6},{"id":"L1","x":2075,"y":125.0},{"id":"L1","x":2077,"y":128.5},{"id":"L1","x":2079,"y":127.8},{"id":"L1","x":2081,"y":127.2},{"id":"L1","x":2083,"y":128.1},{"id":"L1","x":2085,"y":129.5},{"id":"L1","x":2087,"y":128.5},{"id":"L1","x":2089,"y":128.2},{"id":"L1","x":2091,"y":128.5},{"id":"L1","x":2093,"y":130.7},{"id":"L1","x":2095,"y":134.5},{"id":"L1","x":2097,"y":136.6},{"id":"L1","x":2099,"y":135.2},{"id":"L1","x":2100,"y":136.6}
]
},
"layer": [
{
"data": {"name": "stats"},
"mark": {"type": "area", "color": "#e3e3fc", "opacity": 1},
"encoding": {
"x": {"field": "year", "type": "quantitative", "scale": {"domain": [1951, 2100], "nice": false, "zero": false},
"title": "Gads",
"axis": {"orient": "bottom", "zindex": 1, "values": [1960, 1980, 2000, 2020, 2040, 2060, 2080, 2100], "format": "d", "labelFontSize": 55, "labelFont": "Liberation Serif", "labelColor": "black", "labelFlush": false, "labelOverlap": false, "ticks": false, "domain": false, "grid": true, "gridColor": "black", "gridDash": [4, 13], "gridWidth": 3, "gridOpacity": 1, "labelPadding": 15, "titleFontSize": 55, "titleFont": "Liberation Serif", "titleFontWeight": "normal", "titleColor": "black", "titlePadding": 20}},
"y": {"field": "13%", "type": "quantitative", "scale": {"domain": [0, 300], "nice": false},
"title": "Saules radiācija uz horizontālas virsmas, W/m²",
"axis": {"orient": "left", "zindex": 1, "values": [0, 50, 100, 150, 200, 250, 300], "labelFontSize": 55, "labelFont": "Liberation Serif", "labelColor": "black", "labelFlush": false, "labelOverlap": false, "ticks": false, "domain": false, "grid": true, "gridColor": "black", "gridDash": [4, 13], "gridWidth": 3, "gridOpacity": 1, "labelPadding": 18, "titleFontSize": 58, "titleFont": "Liberation Serif", "titleFontWeight": "normal", "titleColor": "black", "titlePadding": 29}},
"y2": {"field": "87%"}
}
},
{
"data": {"name": "ens"},
"mark": {"type": "line", "color": "#999999", "opacity": 0.45, "strokeWidth": 3.5},
"encoding": {
"x": {"field": "x", "type": "quantitative", "axis": {"orient": "top", "zindex": 1, "values": [1960, 1980, 2000, 2020, 2040, 2060, 2080, 2100], "labels": false, "grid": false, "domain": false, "ticks": true, "tickSize": -20, "tickColor": "black", "tickWidth": 2, "title": null}},
"y": {"field": "y", "type": "quantitative", "axis": {"orient": "right", "zindex": 1, "values": [0, 50, 100, 150, 200, 250, 300], "labels": false, "grid": false, "domain": false, "ticks": true, "tickSize": -20, "tickColor": "black", "tickWidth": 2, "title": null}},
"detail": {"field": "id", "type": "nominal"}
}
},
{
"data": {"name": "stats"},
"transform": [{"fold": ["13%", "87%"], "as": ["s", "v"]}],
"mark": {"type": "line", "strokeWidth": 5},
"encoding": {
"x": {"field": "year", "type": "quantitative", "axis": {"orient": "bottom", "zindex": 1, "values": [1960, 1980, 2000, 2020, 2040, 2060, 2080, 2100], "labels": false, "grid": false, "domain": false, "ticks": true, "tickSize": -20, "tickColor": "black", "tickWidth": 2, "title": null}},
"y": {"field": "v", "type": "quantitative", "axis": {"orient": "left", "zindex": 1, "values": [0, 50, 100, 150, 200, 250, 300], "labels": false, "grid": false, "domain": false, "ticks": true, "tickSize": -20, "tickColor": "black", "tickWidth": 2, "title": null}},
"color": {"field": "s", "type": "nominal",
"scale": {"domain": ["13%", "87%", "Mediāna", "Novērojumi"], "range": ["#808080", "#808080", "#000000", "#008000"]},
"legend": {"orient": "none", "legendX": 35, "legendY": 1177, "zindex": 5, "title": null, "symbolType": "stroke", "symbolSize": 10800, "symbolStrokeWidth": 4, "labelFontSize": 70, "labelFont": "Liberation Serif", "labelColor": "black", "labelLimit": 0, "fillColor": "white", "strokeColor": "black", "padding": 24, "rowPadding": 29, "symbolOffset": 35, "labelOffset": 96, "cornerRadius": 0,
"encode": {"legend": {"update": {"strokeWidth": {"value": 4}}}, "symbols": {"update": {"strokeWidth": {"signal": "datum.value === 'Mediāna' ? 7 : (datum.value === 'Novērojumi' ? 10 : 4)"}}}}}}
}
},
{
"data": {"name": "stats"},
"transform": [{"fold": ["Mediāna"], "as": ["s", "v"]}],
"mark": {"type": "line", "strokeWidth": 8},
"encoding": {
"x": {"field": "year", "type": "quantitative", "axis": null},
"y": {"field": "v", "type": "quantitative", "axis": null},
"color": {"field": "s", "type": "nominal"}
}
},
{
"data": {"name": "obs"},
"mark": {"type": "line", "strokeWidth": 11},
"encoding": {
"x": {"field": "year", "type": "quantitative", "axis": null},
"y": {"field": "v", "type": "quantitative", "axis": null},
"color": {"field": "s", "type": "nominal"}
}
}
]
}
